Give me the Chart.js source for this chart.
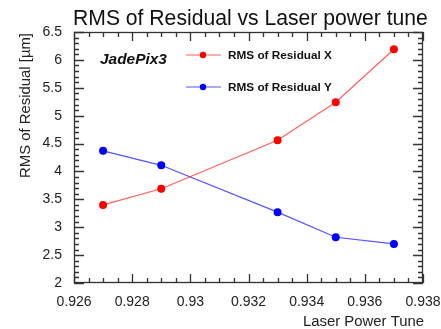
<!DOCTYPE html>
<html>
<head>
<meta charset="utf-8">
<script src="https://cdn.jsdelivr.net/npm/chart.js@4"></script>
<style>
  html, body { margin: 0; padding: 0; background: #fff; }
  #wrap { width: 441px; height: 329px; }
</style>
</head>
<body>
<div id="wrap"><canvas id="chart" width="441" height="329"></canvas></div>
<script>
// data
const tune = [0.927, 0.929, 0.933, 0.935, 0.937];
const rmsX = [3.40, 3.69, 4.56, 5.24, 6.19];
const rmsY = [4.37, 4.11, 3.27, 2.82, 2.70];
const xTicks = [0.926, 0.928, 0.930, 0.932, 0.934, 0.936, 0.938];
const yTicks = [2, 2.5, 3, 3.5, 4, 4.5, 5, 5.5, 6, 6.5];

const FONT = "'Liberation Sans', Helvetica, Arial, sans-serif";

function pts(ys) {
  return tune.map((x, i) => ({ x, y: ys[i] }));
}

// shrink/grow a font until the text is the wanted width
function fitFont(ctx, text, style, width) {
  ctx.font = style + ' 20px ' + FONT;
  const s = 20 * width / ctx.measureText(text).width;
  ctx.font = style + ' ' + s.toFixed(2) + 'px ' + FONT;
}

// ROOT-like frame: inward ticks on all four sides + texts
const decor = {
  id: 'decor',
  afterDraw(chart) {
    const ctx = chart.ctx;
    const a = chart.chartArea;
    const xs = chart.scales.x, ys = chart.scales.y;
    ctx.save();
    ctx.strokeStyle = '#333';
    ctx.lineWidth = 1.3;
    ctx.strokeRect(a.left + 0.5, a.top + 0.5, a.right - a.left - 1, a.bottom - a.top - 1);

    ctx.beginPath();
    for (let i = 0; i <= 24; i++) {
      const px = Math.round(xs.getPixelForValue(xs.min + i * 0.0005)) + 0.5;
      const len = i % 4 === 0 ? 9 : 5;
      ctx.moveTo(px, a.bottom); ctx.lineTo(px, a.bottom - len);
      ctx.moveTo(px, a.top); ctx.lineTo(px, a.top + len);
    }
    for (let i = 0; i <= 45; i++) {
      const py = Math.round(ys.getPixelForValue(ys.min + i * 0.1)) + 0.5;
      const len = i % 5 === 0 ? 10 : 5;
      ctx.moveTo(a.left, py); ctx.lineTo(a.left + len, py);
      ctx.moveTo(a.right, py); ctx.lineTo(a.right - len, py);
    }
    ctx.stroke();

    // title
    ctx.fillStyle = '#111';
    ctx.textBaseline = 'alphabetic';
    ctx.textAlign = 'left';
    fitFont(ctx, 'RMS of Residual vs Laser power tune', '', 355);
    ctx.fillText('RMS of Residual vs Laser power tune', 73, 25);

    // x title
    ctx.fillStyle = '#222';
    fitFont(ctx, 'Laser Power Tune', '', 121);
    ctx.textAlign = 'right';
    ctx.fillText('Laser Power Tune', 424, 326);

    // y title
    ctx.save();
    ctx.translate(30, 33);
    ctx.rotate(-Math.PI / 2);
    fitFont(ctx, 'RMS of Residual [\u00b5m]', '', 145);
    ctx.textAlign = 'right';
    ctx.fillText('RMS of Residual [\u00b5m]', 0, 0);
    ctx.restore();

    // label
    ctx.fillStyle = '#111';
    ctx.textAlign = 'left';
    fitFont(ctx, 'JadePix3', 'italic bold', 67);
    ctx.fillText('JadePix3', 100, 64);

    // legend
    const ds = chart.data.datasets;
    const rows = [55, 87];
    ds.forEach((d, i) => {
      const y = rows[i];
      ctx.strokeStyle = d.borderColor;
      ctx.lineWidth = 1.2;
      ctx.beginPath();
      ctx.moveTo(186, y); ctx.lineTo(221, y);
      ctx.stroke();
      ctx.fillStyle = d.pointBackgroundColor;
      ctx.beginPath();
      ctx.arc(203, y, 3.2, 0, Math.PI * 2);
      ctx.fill();
      ctx.fillStyle = '#111';
      fitFont(ctx, d.label, 'bold', 104);
      ctx.textBaseline = 'middle';
      ctx.fillText(d.label, 228, y + 1);
      ctx.textBaseline = 'alphabetic';
    });
    ctx.restore();
  }
};

new Chart(document.getElementById('chart').getContext('2d'), {
  type: 'scatter',
  data: {
    datasets: [{
      label: 'RMS of Residual X',
      data: pts(rmsX),
      showLine: true,
      borderColor: 'rgba(255, 40, 40, 0.75)',
      borderWidth: 1.2,
      pointBackgroundColor: '#ff0000',
      pointBorderColor: '#ff0000',
      pointRadius: 3.4,
      tension: 0
    }, {
      label: 'RMS of Residual Y',
      data: pts(rmsY),
      showLine: true,
      borderColor: 'rgba(40, 40, 255, 0.8)',
      borderWidth: 1.2,
      pointBackgroundColor: '#0000ff',
      pointBorderColor: '#0000ff',
      pointRadius: 3.4,
      tension: 0
    }]
  },
  options: {
    responsive: false,
    animation: false,
    layout: { padding: { top: 32, right: 18, left: 0, bottom: 0 } },
    plugins: {
      legend: { display: false },
      tooltip: { enabled: false },
      title: { display: false }
    },
    scales: {
      x: {
        type: 'linear',
        min: xTicks[0],
        max: xTicks[xTicks.length - 1],
        grid: { display: false },
        border: { display: false },
        afterBuildTicks: s => { s.ticks = xTicks.map(v => ({ value: v })); },
        afterFit: s => { s.height = 46; s.paddingLeft = 0; s.paddingRight = 0; },
        ticks: {
          autoSkip: false,
          maxRotation: 0,
          padding: 3,
          color: '#222',
          font: { family: FONT, size: 14 },
          callback: v => String(+v.toFixed(3))
        }
      },
      y: {
        min: yTicks[0],
        max: yTicks[yTicks.length - 1],
        grid: { display: false },
        border: { display: false },
        afterBuildTicks: s => { s.ticks = yTicks.map(v => ({ value: v })); },
        afterFit: s => { s.width = 74; },
        ticks: {
          autoSkip: false,
          padding: 4,
          color: '#222',
          font: { family: FONT, size: 14 },
          callback: v => String(+v.toFixed(1))
        }
      }
    }
  },
  plugins: [decor]
});
</script>
</body>
</html>
